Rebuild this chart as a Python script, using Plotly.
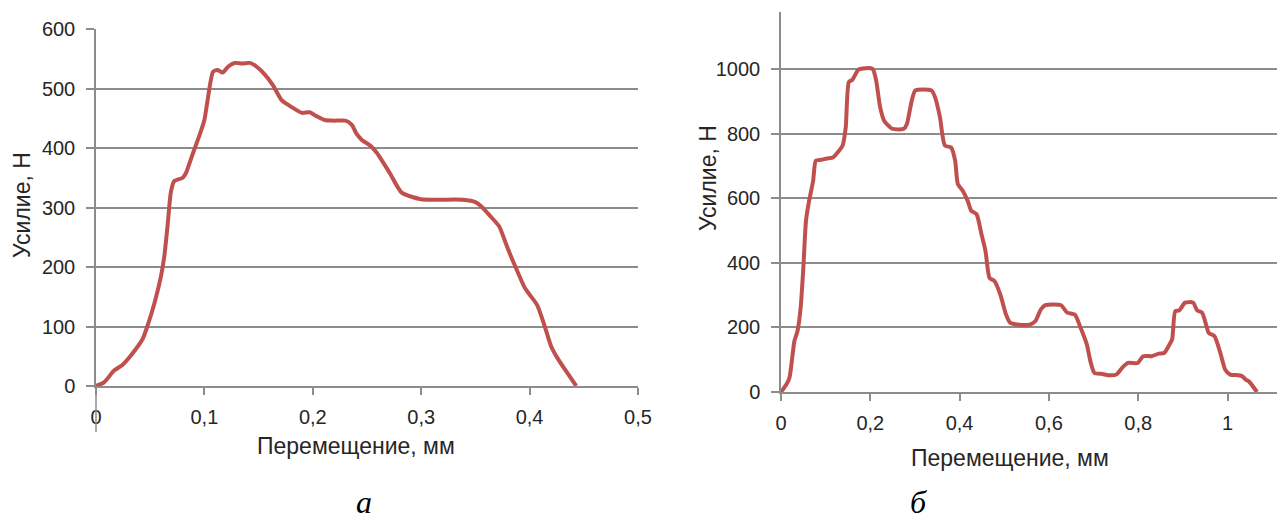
import plotly.graph_objects as go

W, H = 1277, 523

# ---- Data: chart a ----
x_a = [0, 0.0074, 0.0167, 0.024, 0.032, 0.043, 0.0475, 0.054, 0.060, 0.063, 0.066, 0.069, 0.072,
       0.080, 0.083, 0.089, 0.095, 0.100, 0.103, 0.108, 0.112, 0.117, 0.122, 0.128, 0.135, 0.142,
       0.148, 0.156, 0.163, 0.171, 0.176, 0.182, 0.190, 0.197, 0.203, 0.211, 0.219, 0.230, 0.236,
       0.240, 0.245, 0.253, 0.259, 0.271, 0.282, 0.2996, 0.3385, 0.350, 0.356, 0.364, 0.372, 0.377,
       0.381, 0.387, 0.395, 0.399, 0.407, 0.414, 0.420, 0.426, 0.434, 0.443]
y_a = [0, 6, 26, 35, 51, 79, 101, 140, 185, 218, 269, 325, 344,
       350, 358, 389, 419, 447, 481, 528, 531, 527, 537, 543, 542, 543,
       537, 523, 506, 481, 474, 467, 459, 460, 454, 447, 446, 446, 439,
       425, 414, 404, 392, 358, 325, 314, 313, 309, 301, 285, 268, 245,
       226, 200, 167, 156, 136, 100, 66, 46, 24, 0]

# ---- Data: chart б ----
x_b = [0, 0.012, 0.019, 0.026, 0.030, 0.037, 0.044, 0.050, 0.056, 0.063, 0.072, 0.078, 0.090,
       0.103, 0.116, 0.130, 0.138, 0.145, 0.152, 0.160, 0.174, 0.205, 0.213, 0.222, 0.231, 0.249,
       0.275, 0.282, 0.293, 0.301, 0.337, 0.345, 0.356, 0.367, 0.381, 0.390, 0.396, 0.407, 0.418,
       0.426, 0.438, 0.449, 0.458, 0.467, 0.478, 0.491, 0.504, 0.513, 0.530, 0.557, 0.570, 0.582,
       0.592, 0.627, 0.641, 0.658, 0.671, 0.685, 0.693, 0.702, 0.720, 0.733, 0.751, 0.764, 0.777,
       0.799, 0.811, 0.830, 0.846, 0.858, 0.870, 0.876, 0.883, 0.892, 0.905, 0.923, 0.932, 0.943,
       0.952, 0.958, 0.971, 0.985, 0.995, 1.006, 1.024, 1.033, 1.041, 1.048, 1.066]
y_b = [0, 23, 44, 116, 158, 189, 261, 385, 531, 593, 655, 717, 720,
       724, 727, 748, 764, 821, 961, 968, 1000, 1002, 966, 883, 841, 816,
       816, 831, 904, 935, 935, 914, 852, 764, 758, 717, 645, 624, 593,
       562, 551, 489, 437, 354, 344, 303, 240, 215, 209, 209, 220, 256,
       269, 269, 246, 240, 199, 147, 95, 59, 56, 52, 54, 75, 90,
       90, 111, 111, 119, 121, 147, 163, 251, 253, 277, 277, 253, 246,
       209, 183, 173, 116, 69, 54, 52, 49, 38, 33, 0]

x_ticks_a = [0, 0.1, 0.2, 0.3, 0.4, 0.5]
y_ticks_a = [0, 100, 200, 300, 400, 500, 600]
x_ticks_b = [0, 0.2, 0.4, 0.6, 0.8, 1.0]
y_ticks_b = [0, 200, 400, 600, 800, 1000]

x_title = "Перемещение, мм"
y_title = "Усилие, Н"
captions = ["а", "б"]

LINE = "#C0504D"
GRID = "#8c8c8c"
TXT = "#262626"
FONT = "Liberation Sans, Arial, sans-serif"


def px(x):
    return x / W


def py(y):
    return 1 - y / H


fig = go.Figure()
fig.add_trace(go.Scatter(x=x_a, y=y_a, mode="lines", xaxis="x", yaxis="y",
                         line=dict(color=LINE, width=4, shape="spline", smoothing=0.6),
                         showlegend=False, cliponaxis=False))
fig.add_trace(go.Scatter(x=x_b, y=y_b, mode="lines", xaxis="x2", yaxis="y2",
                         line=dict(color=LINE, width=4, shape="spline", smoothing=0.6),
                         showlegend=False, cliponaxis=False))

common_x = dict(showgrid=False, zeroline=False, showline=True, linecolor=GRID, linewidth=1.5,
                ticks="outside", ticklen=7, tickcolor=GRID, tickwidth=1.5, automargin=False,
                tickfont=dict(family=FONT, size=20, color=TXT), ticklabelstandoff=5)
common_y = dict(showgrid=True, gridcolor=GRID, gridwidth=1.5, zeroline=False,
                showline=True, linecolor=GRID, linewidth=1.5, automargin=False,
                ticks="outside", ticklen=8, tickcolor=GRID, tickwidth=1.5,
                tickfont=dict(family=FONT, size=20, color=TXT), ticklabelstandoff=7)

fig.update_layout(
    width=W, height=H, margin=dict(l=0, r=0, t=0, b=0),
    paper_bgcolor="white", plot_bgcolor="white",
    separators=", ",
    xaxis=dict(domain=[px(96), px(638)], range=[0, 0.5], tickvals=x_ticks_a, anchor="y",
               **common_x),
    yaxis=dict(domain=[py(386), py(29)], range=[0, 600], tickvals=y_ticks_a, anchor="x",
               **common_y),
    xaxis2=dict(domain=[px(781), 1.0], range=[0, (1277 - 781) / 446.5], tickvals=x_ticks_b,
                anchor="y2", **common_x),
    yaxis2=dict(domain=[py(392), py(12)], range=[0, 1178], tickvals=y_ticks_b, anchor="x2",
                **common_y),
)

# left y-axis line extends below the x axis
fig.add_shape(type="line", xref="paper", yref="paper", x0=px(96), x1=px(96),
              y0=py(432), y1=py(386), line=dict(color=GRID, width=1.5))

tfont = dict(family=FONT, size=23, color=TXT)
fig.add_annotation(text=x_title, xref="paper", yref="paper", x=px(356), y=py(446),
                   showarrow=False, font=tfont, xanchor="center", yanchor="middle")
fig.add_annotation(text=x_title, xref="paper", yref="paper", x=px(1010), y=py(458),
                   showarrow=False, font=tfont, xanchor="center", yanchor="middle")
fig.add_annotation(text=y_title, xref="paper", yref="paper", x=px(22), y=py(205),
                   showarrow=False, font=tfont, textangle=-90, xanchor="center", yanchor="middle")
fig.add_annotation(text=y_title, xref="paper", yref="paper", x=px(708), y=py(178),
                   showarrow=False, font=tfont, textangle=-90, xanchor="center", yanchor="middle")

cfont = dict(family="Liberation Serif, Times New Roman, serif", size=32, color="black")
fig.add_annotation(text="<i>" + captions[0] + "</i>", xref="paper", yref="paper", x=px(364), y=py(522),
                   showarrow=False, font=cfont, xanchor="center", yanchor="bottom")
fig.add_annotation(text="<i>" + captions[1] + "</i>", xref="paper", yref="paper", x=px(918), y=py(522),
                   showarrow=False, font=cfont, xanchor="center", yanchor="bottom")

fig.write_html("out.html", config={"displayModeBar": False},
               post_script="document.body.style.margin='0';document.body.style.overflow='hidden';")
